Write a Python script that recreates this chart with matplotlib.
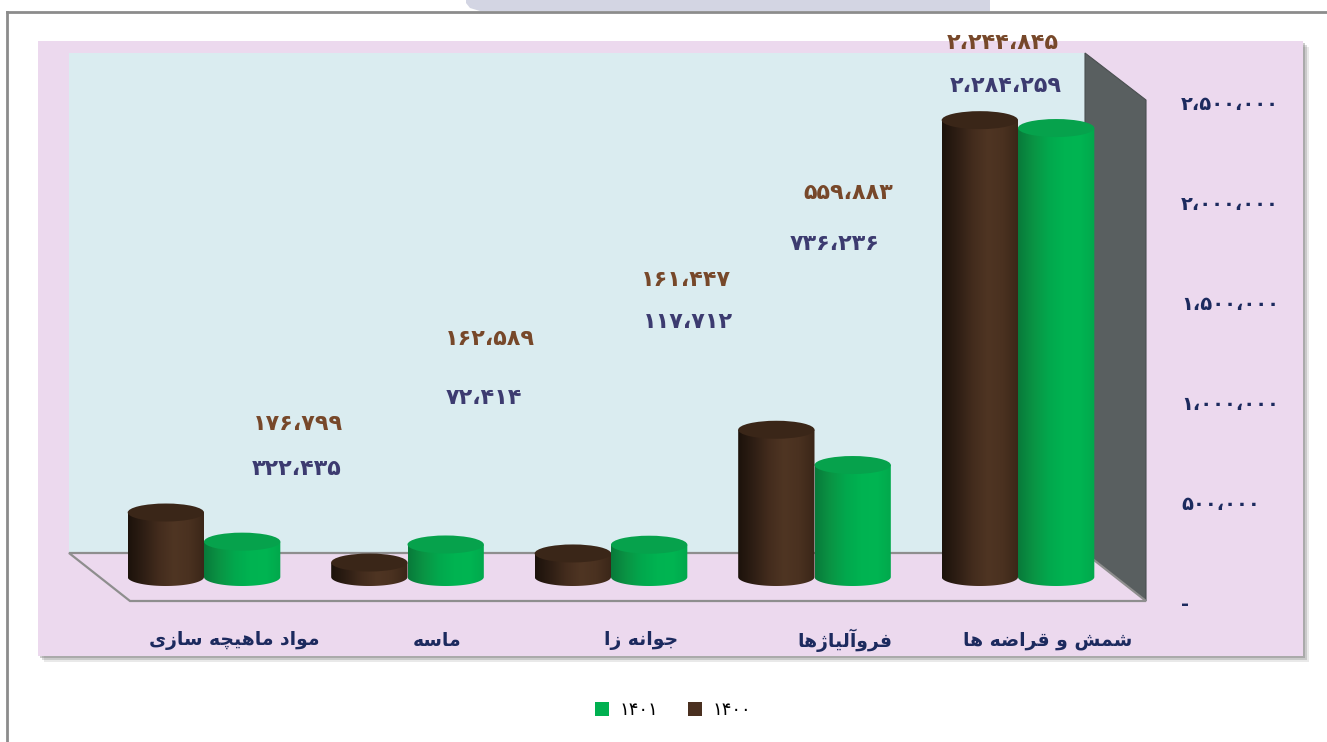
import numpy as np
import matplotlib
matplotlib.use("Agg")
import matplotlib.pyplot as plt
from matplotlib.patches import Rectangle, Polygon, PathPatch, Ellipse, FancyBboxPatch, Patch
from matplotlib.path import Path
from matplotlib.colors import LinearSegmentedColormap
import matplotlib.transforms as mtransforms

# ---------------- data ----------------
categories = ["مواد ماهیچه سازی", "ماسه", "جوانه زا", "فروآلیاژها", "شمش و قراضه ها"]
series_names = ["۱۴۰۰", "۱۴۰۱"]
values_1400 = [322435, 72414, 117712, 736236, 2284259]
values_1401 = [176799, 162589, 161447, 559883, 2244845]
y_ticks = [0, 500000, 1000000, 1500000, 2000000, 2500000]

# ---------------- helpers ----------------
FORMS = {
    'ا': ('\uFE8D', '\uFE8E', None, None),
    'آ': ('\uFE81', '\uFE82', None, None),
    'د': ('\uFEA9', '\uFEAA', None, None),
    'ر': ('\uFEAD', '\uFEAE', None, None),
    'ز': ('\uFEAF', '\uFEB0', None, None),
    'ژ': ('\uFB8A', '\uFB8B', None, None),
    'و': ('\uFEED', '\uFEEE', None, None),
    'ج': ('\uFE9D', '\uFE9E', '\uFE9F', '\uFEA0'),
    'چ': ('\uFB7A', '\uFB7B', '\uFB7C', '\uFB7D'),
    'س': ('\uFEB1', '\uFEB2', '\uFEB3', '\uFEB4'),
    'ش': ('\uFEB5', '\uFEB6', '\uFEB7', '\uFEB8'),
    'ض': ('\uFEBD', '\uFEBE', '\uFEBF', '\uFEC0'),
    'ف': ('\uFED1', '\uFED2', '\uFED3', '\uFED4'),
    'ق': ('\uFED5', '\uFED6', '\uFED7', '\uFED8'),
    'ل': ('\uFEDD', '\uFEDE', '\uFEDF', '\uFEE0'),
    'م': ('\uFEE1', '\uFEE2', '\uFEE3', '\uFEE4'),
    'ن': ('\uFEE5', '\uFEE6', '\uFEE7', '\uFEE8'),
    'ه': ('\uFEE9', '\uFEEA', '\uFEEB', '\uFEEC'),
    'ی': ('\uFBFC', '\uFBFD', '\uFBFE', '\uFBFF'),
}


def shape(text):
    out = []
    n = len(text)
    for i, ch in enumerate(text):
        if ch not in FORMS:
            out.append(ch)
            continue
        prev = text[i - 1] if i > 0 else ''
        nxt = text[i + 1] if i < n - 1 else ''
        jp = prev in FORMS and FORMS[prev][2] is not None
        jn = FORMS[ch][2] is not None and nxt in FORMS
        iso, fin, ini, med = FORMS[ch]
        if jp and jn:
            out.append(med)
        elif jp:
            out.append(fin)
        elif jn:
            out.append(ini)
        else:
            out.append(iso)
    return ''.join(reversed(out))


def fa_num(v):
    if v == 0:
        return "-"
    s = f"{v:,}"
    return s.translate(str.maketrans("0123456789,", "۰۱۲۳۴۵۶۷۸۹،"))


# ---------------- figure ----------------
W, H = 1327, 742
fig = plt.figure(figsize=(W / 100, H / 100), dpi=100)
fig.patch.set_facecolor("white")


def P(x, y):
    return (x / W, 1 - y / H)


def add_poly(pts, **kw):
    fig.add_artist(Polygon([P(*p) for p in pts], closed=True,
                           transform=fig.transFigure, **kw))


# faint shape at very top (rounded left end)
tt = np.linspace(np.pi / 2, np.pi, 12)
top_shape = [(990, 0), (990, 11)] + [(490 + 22 * np.cos(a), 11 - 22 * np.sin(a) + 22 - 11) for a in []]
top_shape = [(990, -2), (990, 11), (480, 11), (470, 8), (466, 3), (466, -2)]
add_poly(top_shape, facecolor="#d3d5e3", edgecolor="none", zorder=0)
# border lines
fig.add_artist(plt.Line2D([7 / W, 1], [1 - 11.5 / H, 1 - 11.5 / H],
                          transform=fig.transFigure, color="#8c8c8c", lw=2, zorder=1))
fig.add_artist(plt.Line2D([7 / W, 7 / W], [0, 1 - 11.5 / H],
                          transform=fig.transFigure, color="#8c8c8c", lw=2, zorder=1))

# pink panel with shadow
for off, a in [(6, 0.15), (4, 0.25), (2, 0.35)]:
    add_poly([(38 + off, 41 + off), (1303 + off, 41 + off), (1303 + off, 656 + off),
              (38 + off, 656 + off)], facecolor="#707070", edgecolor="none",
             alpha=a, zorder=1)
add_poly([(38, 41), (1303, 41), (1303, 656), (38, 656)], facecolor="#ecd9ee",
         edgecolor="none", zorder=1)
# back wall
add_poly([(69, 53), (1085, 53), (1085, 553), (69, 553)], facecolor="#daecf0",
         edgecolor="none", zorder=1)
# side wall
add_poly([(1085, 53), (1146, 100), (1146, 601), (1085, 553)], facecolor="#595f60",
         edgecolor="#4a4f50", lw=0.8, zorder=1)
# floor
add_poly([(69, 553), (1085, 553), (1146, 601), (130, 601)], facecolor="#ecd9ee",
         edgecolor="#8e8e8e", lw=1.6, zorder=1)

# ---------------- axes ----------------
ax_left, ax_right, ax_top, ax_bot = 69, 1085, 53, 603
zero_px = 577
cat_px0, cat_step = 204, 203.5
rect = [ax_left / W, 1 - ax_bot / H, (ax_right - ax_left) / W, (ax_bot - ax_top) / H]

ax = fig.add_axes(rect, zorder=3)
ax.patch.set_alpha(0)
ax.set_axis_off()

ax2 = fig.add_axes(rect, zorder=2)
ax2.patch.set_alpha(0)
ax2.set_ylim(0, (ax_bot - ax_top) / 200 * 1e6)
ax2.set_xticks([])
for s in ax2.spines.values():
    s.set_visible(False)
ax2.yaxis.tick_right()
ax2.set_yticks(y_ticks)
ax2.set_yticklabels([fa_num(v) for v in y_ticks])
ax2.tick_params(axis="y", length=0, pad=(1181 - ax_right) * 0.72,
                labelsize=14, labelcolor="#1c2a5e")
for lab in ax2.get_yticklabels():
    lab.set_fontweight("bold")
    lab.set_horizontalalignment("left")

x = np.arange(len(categories))
bw = 0.375
eh = 0.09e6  # ellipse height in data units

brown_grad = ["#1c120b", "#2e1e14", "#432c1d", "#4f3523", "#4a3120", "#3a2618"]
green_grad = ["#087a3a", "#0a9444", "#02a84d", "#00b351", "#00b552", "#02a84c"]
cm_brown = LinearSegmentedColormap.from_list("b", brown_grad)
cm_green = LinearSegmentedColormap.from_list("g", green_grad)
grad = np.linspace(0, 1, 256).reshape(1, -1)


def cylinders(xpos, vals, cmap, top_color, z):
    bars = ax.bar(xpos, vals, width=bw, color="none", edgecolor="none", zorder=z)
    for b in bars:
        x0 = b.get_x()
        w = b.get_width()
        h = b.get_height()
        xc = x0 + w / 2
        t = np.linspace(np.pi, 2 * np.pi, 60)
        verts = [(x0, h), (x0, 0)] + [(xc + w / 2 * np.cos(a), eh / 2 * np.sin(a)) for a in t] + \
                [(x0 + w, h), (x0, h)]
        codes = [Path.MOVETO] + [Path.LINETO] * (len(verts) - 2) + [Path.CLOSEPOLY]
        clip = PathPatch(Path(verts, codes), transform=ax.transData, facecolor="none",
                         edgecolor="none", clip_on=False)
        ax.add_patch(clip)
        im = ax.imshow(grad, cmap=cmap, extent=[x0, x0 + w, -eh / 2, h], aspect="auto",
                       zorder=z, interpolation="bilinear")
        im.set_clip_box(fig.bbox)
        im.set_clip_path(clip)
        ax.add_patch(Ellipse((xc, h), w, eh, facecolor=top_color, edgecolor="none",
                             zorder=z + 0.1, clip_on=False))


cylinders(x + bw / 2, values_1401, cm_green, "#06a24c", 4)
cylinders(x - bw / 2, values_1400, cm_brown, "#3a2618", 5)
ax.set_xlim((ax_left - cat_px0) / cat_step, (ax_right - cat_px0) / cat_step)
ax.set_ylim((zero_px - ax_bot) / 200 * 1e6, (zero_px - ax_top) / 200 * 1e6)

# data labels (layout positions in pixels)
lab1401_pos = [(298, 424), (490, 339), (686, 280), (848, 193), (1003, 43)]
lab1400_pos = [(297, 469), (484, 398), (688, 322), (835, 244), (1006, 86)]
for v, (px, py) in zip(values_1401, lab1401_pos):
    fig.text(px / W, 1 - py / H, fa_num(v), ha="center", va="center", fontsize=16,
             fontweight="bold", color="#77482a", zorder=10)
for v, (px, py) in zip(values_1400, lab1400_pos):
    fig.text(px / W, 1 - py / H, fa_num(v), ha="center", va="center", fontsize=16,
             fontweight="bold", color="#3c3b70", zorder=10)

# category labels
trans = mtransforms.blended_transform_factory(ax.transData, fig.transFigure)
for i, c in enumerate(categories):
    ax.text(i + 30 / cat_step, 1 - 640 / H, shape(c), transform=trans, ha="center",
            va="center", fontsize=13.5, fontweight="bold", color="#1c2a5e", clip_on=False)

# legend
handles = [Patch(facecolor="#00b050", edgecolor="none"),
           Patch(facecolor="#4a3020", edgecolor="none")]
fig.legend(handles, [series_names[1], series_names[0]], loc="center",
           bbox_to_anchor=(673 / W, 1 - 710 / H), ncol=2, frameon=False,
           fontsize=13, handlelength=0.8, handleheight=0.8, handletextpad=0.6,
           columnspacing=1.6)

fig.savefig("out.png", dpi=100, facecolor="white")
